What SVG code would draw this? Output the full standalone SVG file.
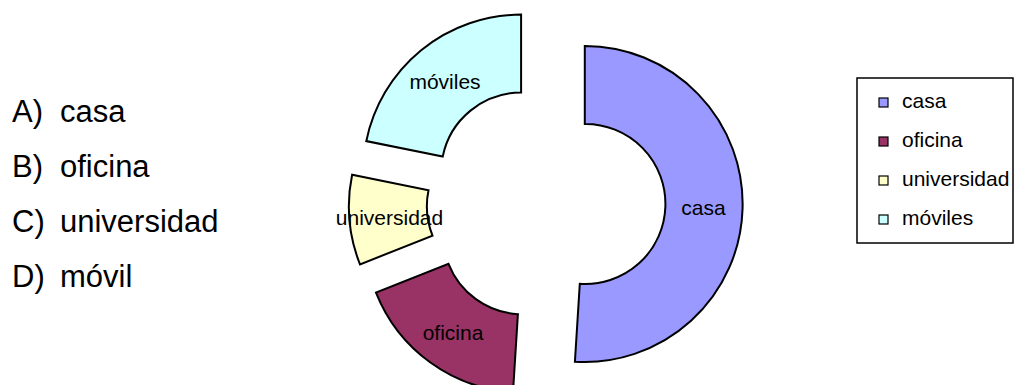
<svg xmlns="http://www.w3.org/2000/svg" width="1015" height="385" viewBox="0 0 1015 385">
<style>
text{font-family:"Liberation Sans",Arial,sans-serif;fill:#000}
.q{font-size:31px}
.lbl{font-size:21px;text-anchor:middle}
.leg{font-size:21px}
.sl{stroke:#000;stroke-width:2;stroke-linejoin:miter}
.sw{stroke:#000;stroke-width:1.2}
</style>
<rect width="1015" height="385" fill="#fff"/>
<g id="question">
<text class="q" x="12" y="122">A)</text><text class="q" x="60" y="122">casa</text>
<text class="q" x="12" y="177">B)</text><text class="q" x="60" y="177">oficina</text>
<text class="q" x="12" y="232">C)</text><text class="q" x="60" y="232">universidad</text>
<text class="q" x="12" y="287">D)</text><text class="q" x="60" y="287">móvil</text>
</g>
<g id="slice-casa">
<path class="sl" fill="#9999FF" d="M584.8,46 A158,158 0 1 1 574.9,361.7 L579.8,283.8 A80,80 0 1 0 584.8,124 Z"/>
<text class="lbl" x="703.5" y="215">casa</text>
</g>
<g id="slice-oficina">
<path class="sl" fill="#993366" d="M513,392.1 A158,158 0 0 1 376,292.6 L448.5,263.8 A80,80 0 0 0 517.9,314.2 Z"/>
<text class="lbl" x="453" y="340">oficina</text>
</g>
<g id="slice-universidad">
<path class="sl" fill="#FFFFCC" d="M360,264.4 A158,158 0 0 1 352.1,174.7 L428.5,190.2 A80,80 0 0 0 432.5,235.6 Z"/>
<text class="lbl" x="389.5" y="225">universidad</text>
</g>
<g id="slice-moviles">
<path class="sl" fill="#CCFFFF" d="M366.3,141.1 A158,158 0 0 1 521.1,14.6 L521.1,92.6 A80,80 0 0 0 442.7,156.6 Z"/>
<text class="lbl" x="445" y="89">móviles</text>
</g>
<g id="legend">
<rect x="857" y="78" width="156" height="165" fill="#fff" stroke="#000" stroke-width="1.5"/>
<rect class="sw" x="879" y="98" width="9" height="9" fill="#9999FF"/>
<text class="leg" x="902" y="108">casa</text>
<rect class="sw" x="879" y="137" width="9" height="9" fill="#993366"/>
<text class="leg" x="902" y="147">oficina</text>
<rect class="sw" x="879" y="176" width="9" height="9" fill="#FFFFCC"/>
<text class="leg" x="902" y="186">universidad</text>
<rect class="sw" x="879" y="215" width="9" height="9" fill="#CCFFFF"/>
<text class="leg" x="902" y="225">móviles</text>
</g>
<g id="connectors"></g>
</svg>
